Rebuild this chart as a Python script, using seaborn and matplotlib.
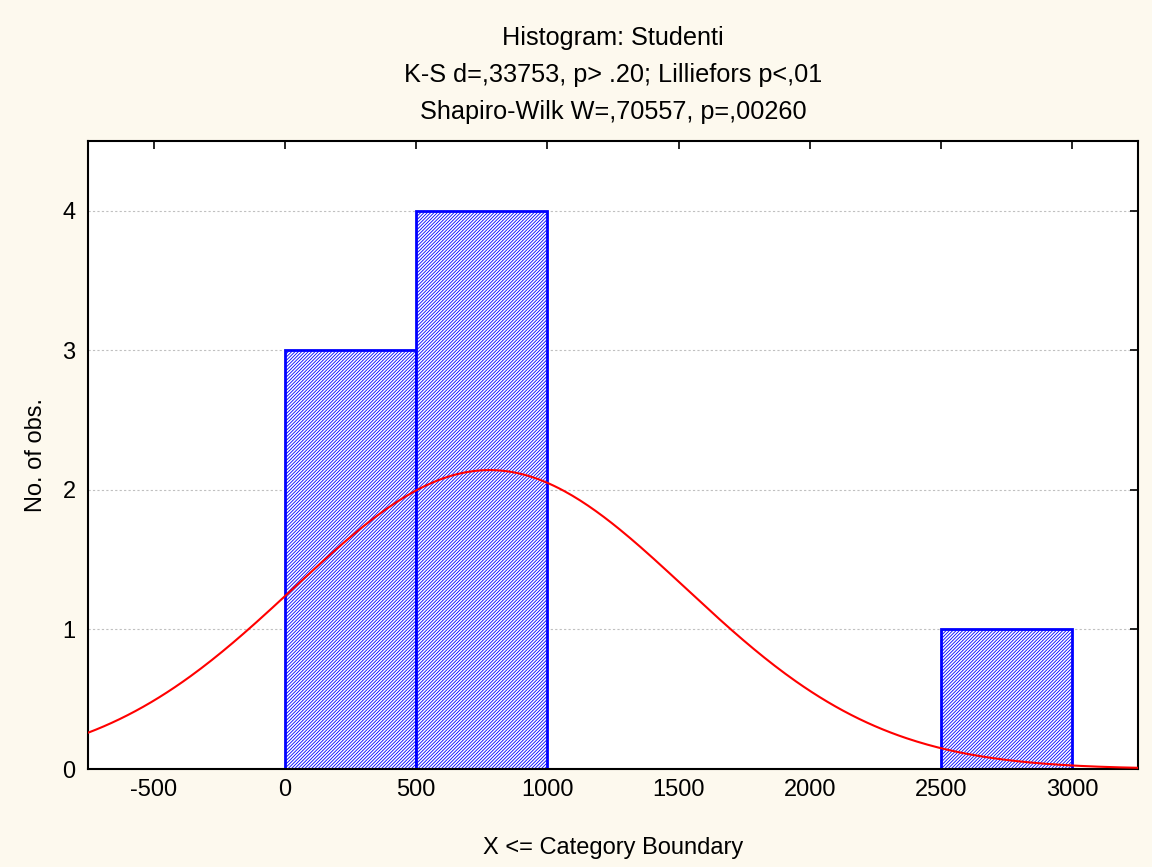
import numpy as np
import pandas as pd
import matplotlib
matplotlib.use("Agg")
import matplotlib.pyplot as plt
import seaborn as sns

# dados
bin_edges = [-500, 0, 500, 1000, 1500, 2000, 2500, 3000]
counts = [0, 3, 4, 0, 0, 0, 1]
n_obs = 8
fit_mean = 780
fit_std = 745
bin_width = 500
x_ticks = [-500, 0, 500, 1000, 1500, 2000, 2500, 3000]
y_ticks = [0, 1, 2, 3, 4]

sns.set_style("white")
plt.rcParams['font.family'] = ['Liberation Sans', 'DejaVu Sans']
plt.rcParams['hatch.linewidth'] = 0.6
plt.rcParams['axes.unicode_minus'] = False
plt.rcParams['text.color'] = 'black'
plt.rcParams['axes.labelcolor'] = 'black'

bg = "#fdf9ee"
fig, ax = plt.subplots(figsize=(11.52, 8.67), dpi=100, facecolor=bg)
fig.subplots_adjust(left=0.0764, right=0.9878, top=0.8374, bottom=0.113)

centers = [(a + b) / 2 for a, b in zip(bin_edges[:-1], bin_edges[1:])]
df = pd.DataFrame({"x": centers, "w": counts})
sns.histplot(data=df, x="x", weights="w", bins=bin_edges, ax=ax,
             fill=True, color="white", edgecolor="#0000ff", linewidth=2,
             alpha=1, zorder=2)
for p in ax.patches:
    p.set_facecolor("white")
    p.set_hatch("/" * 10)
    p.set_edgecolor("#0000ff")

# curva normal ajustada
x = np.linspace(-750, 3250, 400)
y = n_obs * bin_width / (fit_std * np.sqrt(2 * np.pi)) * np.exp(-0.5 * ((x - fit_mean) / fit_std) ** 2)
sns.lineplot(x=x, y=y, ax=ax, color="red", linewidth=1.5, zorder=3)

ax.set_xlim(-750, 3250)
ax.set_ylim(0, 4.5)
ax.set_xticks(x_ticks)
ax.set_yticks(y_ticks)
ax.yaxis.grid(True, linestyle=(0, (2, 2)), color="#c0c0c0", linewidth=0.8, zorder=0)
ax.set_axisbelow(True)
for s in ax.spines.values():
    s.set_visible(True)
    s.set_color("black")
    s.set_linewidth(1.5)
ax.tick_params(direction="in", length=6, width=1.2, top=True, right=True,
               labelsize=17, colors="black")
ax.tick_params(axis="x", pad=7)
ax.tick_params(axis="y", pad=9)
ax.set_xlabel("X <= Category Boundary", fontsize=17, labelpad=26)
ax.set_ylabel("No. of obs.", fontsize=17, labelpad=11)
ax.set_title("Histogram: Studenti\nK-S d=,33753, p> .20; Lilliefors p<,01\nShapiro-Wilk W=,70557, p=,00260",
             fontsize=18.2, linespacing=1.68, pad=16)

fig.savefig("out.png", dpi=100, facecolor=bg)
